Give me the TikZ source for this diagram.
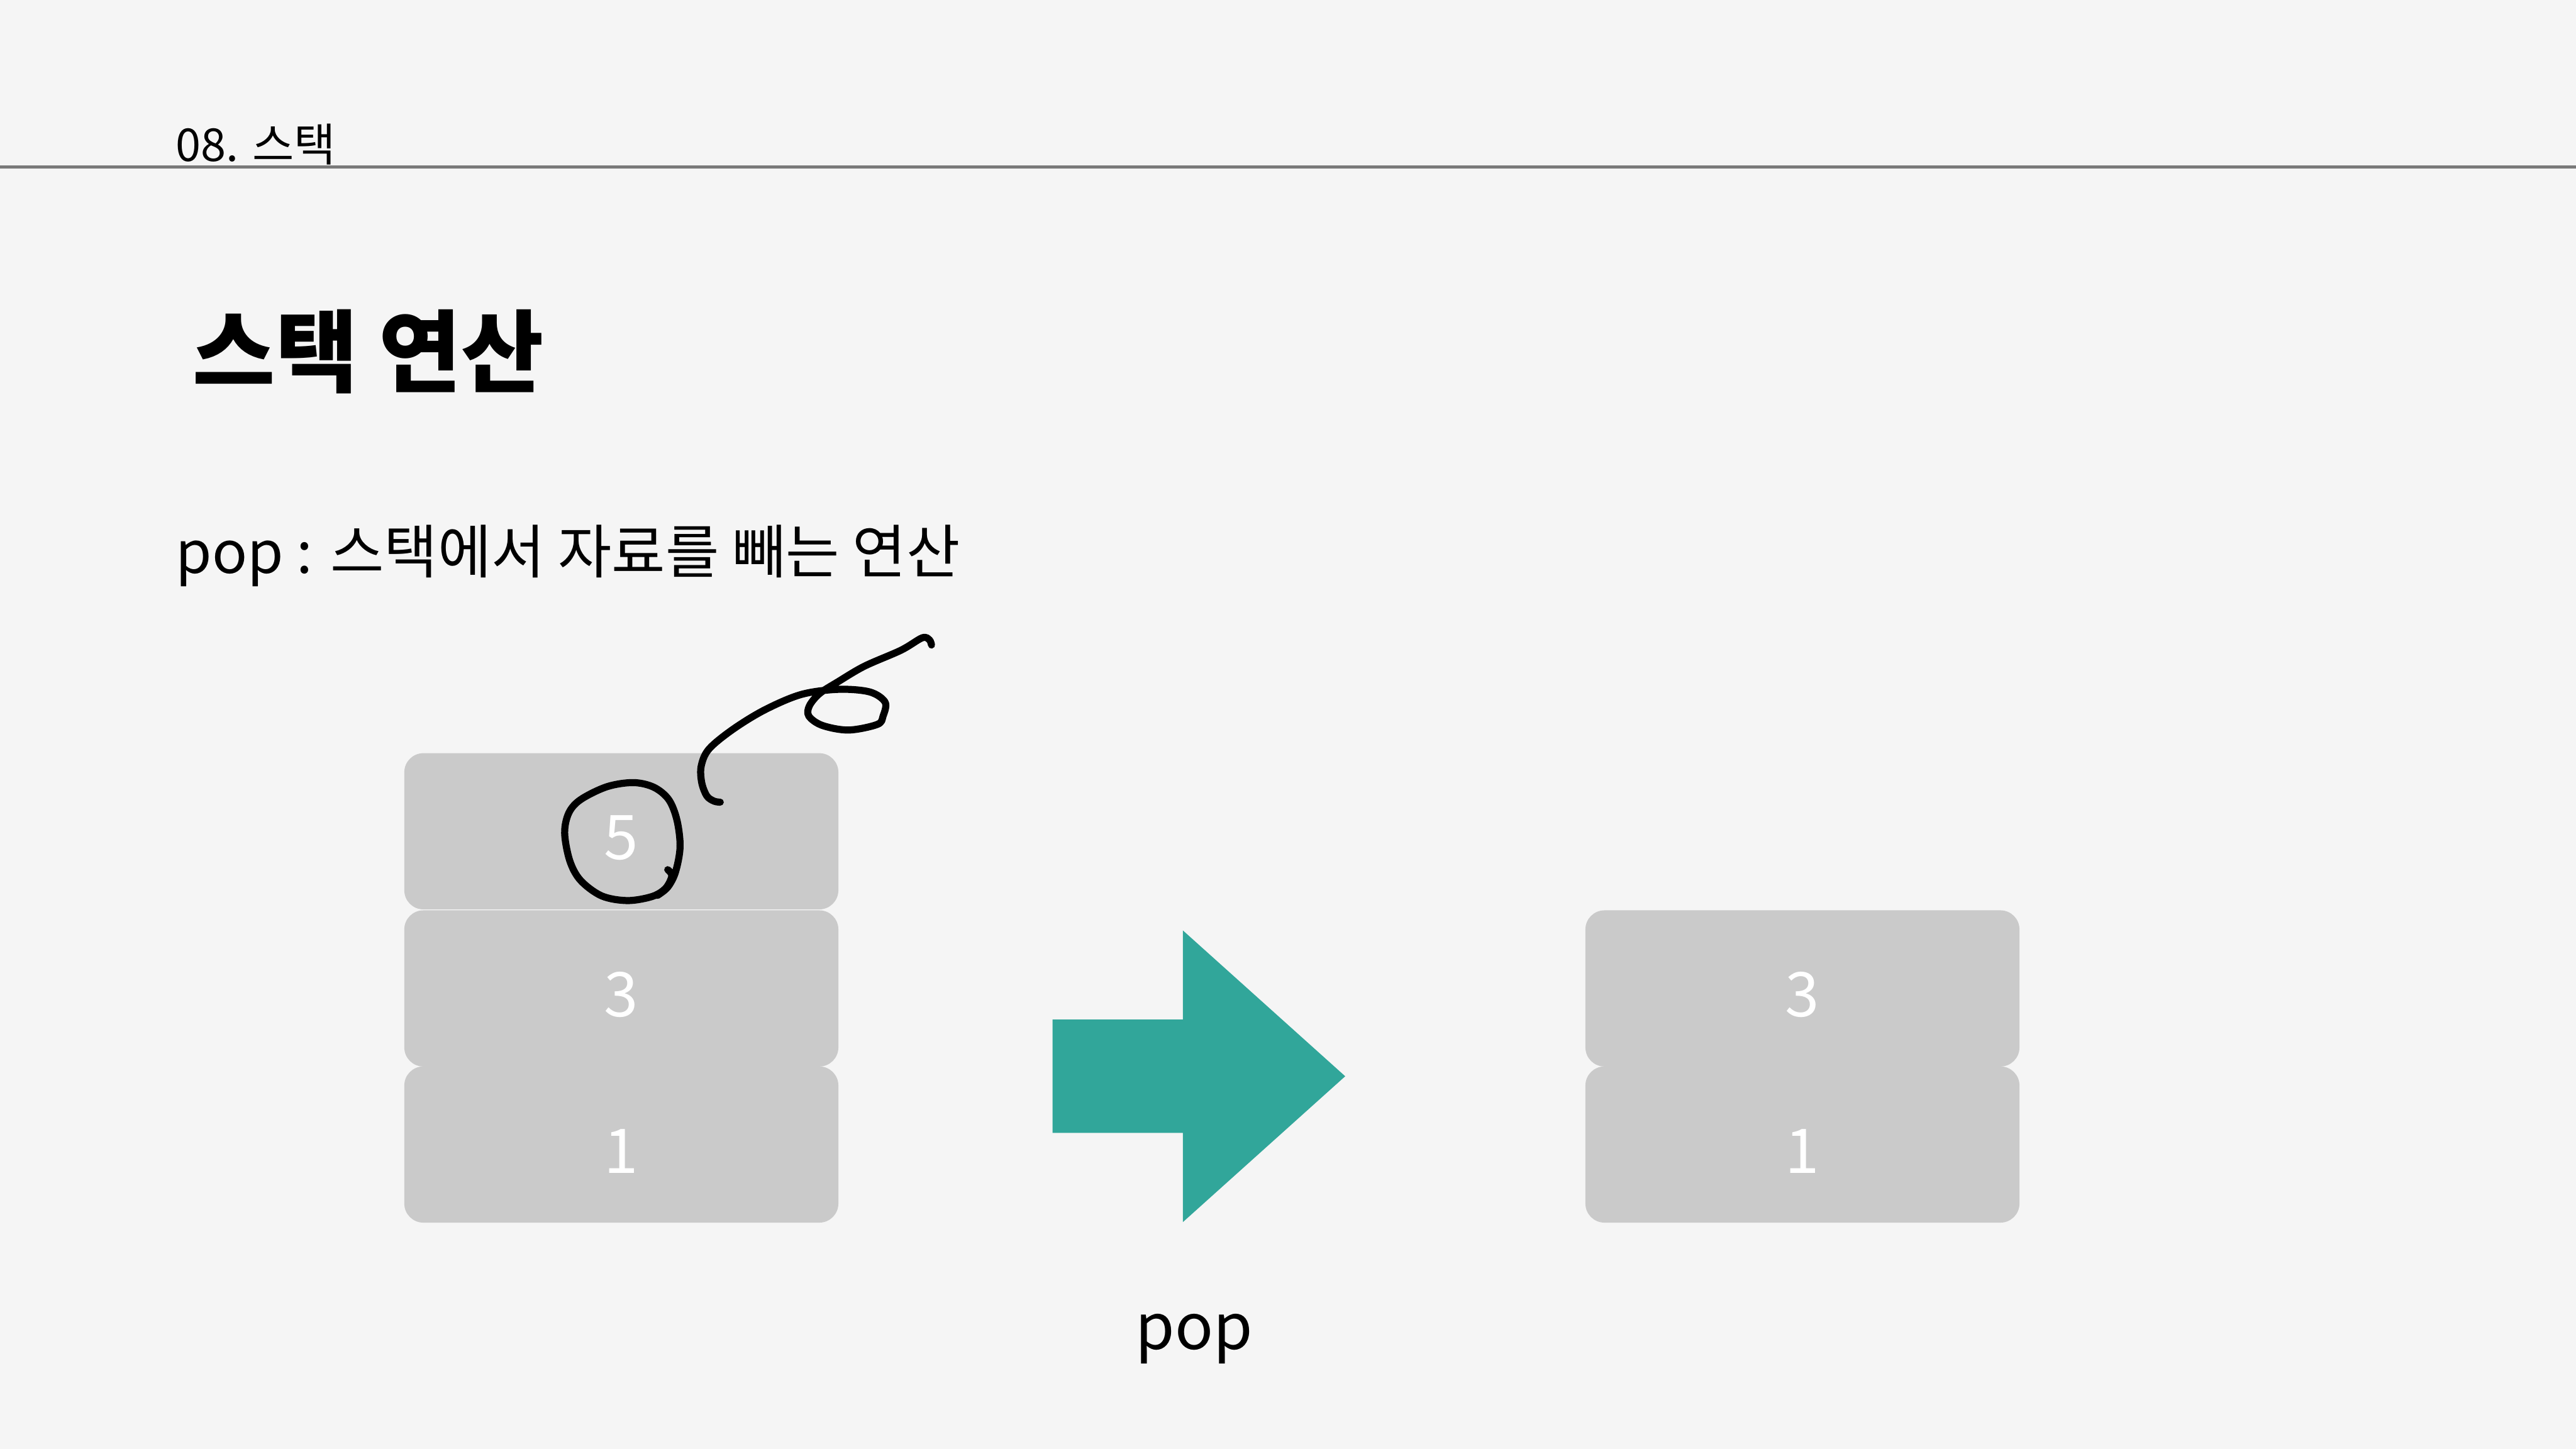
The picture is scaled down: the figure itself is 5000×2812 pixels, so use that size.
\documentclass[tikz,border=0pt]{standalone}
\usepackage{fontspec}
\setmainfont{Noto Sans CJK KR}
\definecolor{bg}{HTML}{F5F5F5}
\definecolor{boxgray}{HTML}{CACACA}
\definecolor{rulegray}{HTML}{7A7A7A}
\definecolor{teal}{HTML}{31A69A}
\tikzset{
  stackbox/.style={rectangle, rounded corners=0.37cm, fill=boxgray, draw=none,
    minimum width=8.42cm, minimum height=3.03cm, inner sep=0pt},
  digit/.style={text=white, font=\fontsize{34}{40}\selectfont, inner sep=0pt},
  ink/.style={draw=black, line width=3.9pt, line cap=round, line join=round},
}
\begin{document}
\begin{tikzpicture}[x=0.01cm, y=-0.01cm]
\fill[bg] (0,0) rectangle (5000,2812);
\useasboundingbox (0,0) rectangle (5000,2812);
% header
\node[anchor=base west, inner sep=0pt, font=\fontsize{25}{30}\selectfont] (hdr) at (341,313) {08. 스택};
\coordinate (rl) at (0,324);
\coordinate (rr) at (5000,324);
\draw[rulegray, line width=2pt] (rl) -- (rr);
% title
\node[anchor=base west, inner sep=0pt, font=\bfseries\fontsize{49.5}{58}\selectfont] (title) at (374,748) {스택 연산};
% subtitle
\node[anchor=base west, inner sep=0pt, font=\fontsize{32.2}{40}\selectfont] (sub) at (341,1113) {pop : 스택에서 자료를 빼는 연산};
% left stack
\node[stackbox] (b5) at (1206,1613.5) {};
\node[stackbox] (b3) at (1206,1918.5) {};
\node[stackbox] (b1) at (1206,2221.5) {};
\node[digit] (d5) at (1206,1626) {5};
\node[digit] (d3) at (1206,1931) {3};
\node[digit] (d1) at (1206,2234) {1};
% right stack
\node[stackbox] (r3) at (3498.5,1918.5) {};
\node[stackbox] (r1) at (3498.5,2221.5) {};
\node[digit] (e3) at (3498.5,1931) {3};
\node[digit] (e1) at (3498.5,2234) {1};
% arrow
\fill[teal] (2043,1979) -- (2296,1979) -- (2296,1806) -- (2611,2089) -- (2296,2372) -- (2296,2199) -- (2043,2199) -- cycle;
\node[anchor=base, inner sep=0pt, font=\fontsize{35}{42}\selectfont] (poplbl) at (2318,2619) {pop};
% hand-drawn ink
\draw[ink] plot[smooth, tension=0.55] coordinates {(1296,1688) (1304,1700) (1292,1724) (1266,1740) (1218,1748) (1168,1739) (1127,1709) (1106,1671) (1096,1617) (1104,1578) (1127,1552) (1178,1527) (1229,1519) (1269,1528) (1298,1552) (1314,1592) (1320,1644) (1311,1693) (1296,1722) (1276,1738)};
\draw[ink] plot[smooth, tension=0.55] coordinates {(1398,1557) (1386,1555) (1372,1545) (1362,1519) (1361,1487) (1376,1454) (1422,1416) (1484,1378) (1555,1348) (1627,1338) (1688,1343) (1718,1363) (1714,1390) (1703,1406) (1647,1417) (1596,1408) (1570,1390) (1571,1370) (1591,1346) (1627,1323) (1678,1293) (1749,1262) (1790,1238) (1804,1242) (1808,1252)};
\end{tikzpicture}
\end{document}
